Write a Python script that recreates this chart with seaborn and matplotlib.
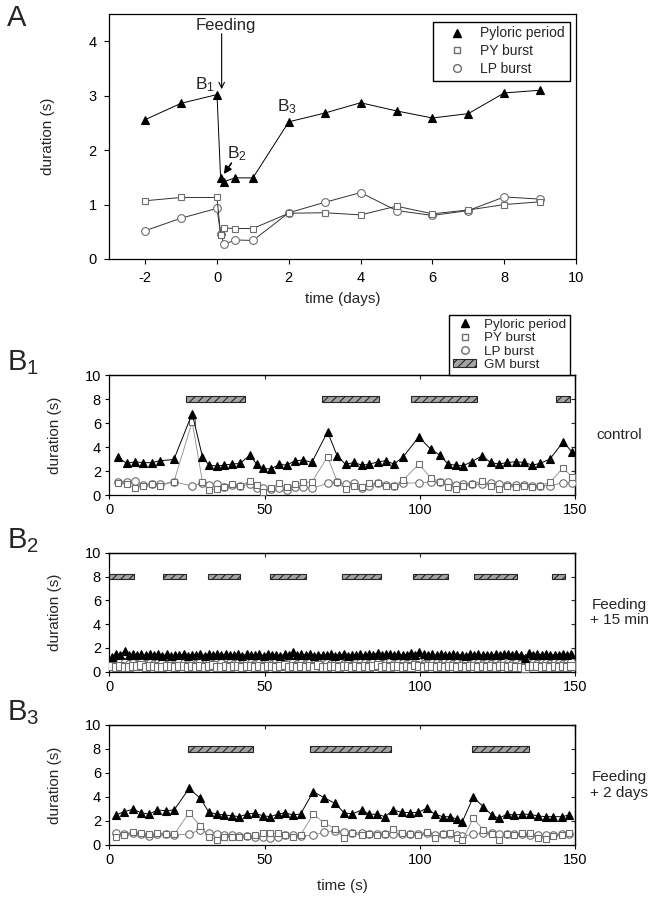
import matplotlib
matplotlib.use("Agg")
import matplotlib.pyplot as plt
import seaborn as sns
from matplotlib.lines import Line2D
from matplotlib.patches import Patch

# ---------------- Panel A data (days) ----------------
a_days = [-2, -1, 0, 0.1, 0.2, 0.5, 1, 2, 3, 4, 5, 6, 7, 8, 9]
a_pyloric = [2.56, 2.86, 3.02, 1.49, 1.42, 1.49, 1.49, 2.52, 2.68, 2.87, 2.72, 2.59, 2.67, 3.05, 3.10]
a_py = [1.07, 1.13, 1.13, 0.45, 0.57, 0.56, 0.56, 0.84, 0.85, 0.81, 0.97, 0.83, 0.90, 1.00, 1.05]
a_lp = [0.52, 0.75, 0.93, 0.46, 0.27, 0.35, 0.34, 0.85, 1.04, 1.22, 0.89, 0.80, 0.89, 1.14, 1.10]

# ---------------- Panel B1 (control) ----------------
b1_t = [2.9, 5.6, 8.3, 11.0, 13.6, 16.3, 20.8, 26.7, 30.0, 32.1, 34.6, 37.0, 39.6, 42.1, 45.3, 47.5,
        49.6, 52.0, 54.7, 57.1, 59.8, 62.5, 65.2, 70.3, 73.4, 76.1, 78.8, 81.3, 83.7, 86.4, 89.1, 91.7,
        94.7, 99.7, 103.5, 106.5, 109.2, 111.7, 114.0, 116.7, 120.1, 122.8, 125.5, 128.2, 130.9, 133.6,
        136.3, 138.7, 141.9, 146.2, 149.0]
b1_pyloric = [3.13, 2.63, 2.77, 2.69, 2.69, 2.85, 2.96, 6.79, 3.19, 2.49, 2.41, 2.49, 2.58, 2.63, 3.32,
              2.55, 2.22, 2.16, 2.55, 2.49, 2.85, 2.91, 2.71, 5.26, 3.27, 2.55, 2.71, 2.49, 2.55, 2.77,
              2.85, 2.58, 3.19, 4.85, 3.82, 3.32, 2.55, 2.49, 2.44, 2.77, 3.27, 2.71, 2.58, 2.71, 2.77,
              2.71, 2.49, 2.63, 2.99, 4.43, 3.60]
b1_py = [0.97, 0.89, 0.61, 0.78, 0.89, 0.78, 1.10, 6.09, 1.10, 0.42, 0.50, 0.69, 0.89, 0.78, 1.16,
         0.83, 0.28, 0.61, 0.97, 0.69, 0.89, 1.05, 1.05, 3.19, 1.10, 0.50, 0.78, 0.69, 0.97, 0.97,
         0.78, 0.78, 1.25, 2.58, 1.44, 1.10, 0.69, 0.50, 0.78, 0.89, 1.16, 0.78, 0.50, 0.78, 0.69,
         0.78, 0.69, 0.78, 1.05, 2.27, 1.50]
b1_lp = [1.10, 1.10, 1.16, 0.83, 0.91, 0.89, 1.10, 0.75, 1.00, 0.83, 0.89, 0.69, 0.83, 0.78, 0.89,
         0.61, 0.55, 0.50, 0.61, 0.42, 0.69, 0.69, 0.55, 0.97, 1.05, 0.89, 0.97, 0.61, 0.78, 0.97,
         0.83, 0.78, 0.97, 1.02, 1.05, 1.05, 1.10, 0.83, 0.89, 0.89, 0.89, 0.97, 0.89, 0.83, 0.83,
         0.83, 0.78, 0.78, 0.78, 1.02, 1.00]
b1_gm_start = [24.7, 68.4, 97.2, 143.8]
b1_gm_end = [43.7, 87.0, 118.3, 148.5]

# ---------------- Panel B2 (feeding + 15 min) ----------------
b2_t = [0.8, 2.2, 3.5, 4.9, 6.3, 7.6, 9.0, 10.3, 11.7, 13.0,
        14.4, 15.8, 17.1, 18.5, 19.8, 21.2, 22.5, 23.9, 25.2, 26.6,
        28.0, 29.3, 30.7, 32.0, 33.4, 34.7, 36.1, 37.5, 38.8, 40.2,
        41.5, 42.9, 44.2, 45.6, 47.0, 48.3, 49.7, 51.0, 52.4, 53.8,
        55.1, 56.5, 57.8, 59.2, 60.6, 61.9, 63.3, 64.6, 66.0, 67.3,
        68.7, 70.1, 71.4, 72.8, 74.1, 75.5, 76.8, 78.2, 79.6, 80.9,
        82.3, 83.6, 85.0, 86.4, 87.7, 89.1, 90.4, 91.8, 93.1, 94.5,
        95.9, 97.2, 98.6, 99.9, 101.3, 102.6, 104.0, 105.4, 106.7, 108.1,
        109.4, 110.8, 112.1, 113.5, 114.9, 116.2, 117.6, 118.9, 120.3, 121.6,
        123.0, 124.4, 125.7, 127.1, 128.4, 129.8, 131.1, 132.5, 133.9, 135.2,
        136.6, 137.9, 139.3, 140.6, 142.0, 143.4, 144.7, 146.1, 147.4, 148.8]
b2_pyloric = [1.25, 1.45, 1.38, 1.75, 1.42, 1.50, 1.40, 1.48, 1.38, 1.45,
              1.40, 1.50, 1.35, 1.45, 1.30, 1.42, 1.38, 1.48, 1.35, 1.44,
              1.40, 1.52, 1.36, 1.45, 1.40, 1.48, 1.38, 1.50, 1.42, 1.38,
              1.45, 1.35, 1.48, 1.40, 1.38, 1.45, 1.36, 1.50, 1.42, 1.40,
              1.35, 1.46, 1.40, 1.62, 1.38, 1.45, 1.40, 1.48, 1.36, 1.44,
              1.40, 1.38, 1.45, 1.36, 1.42, 1.48, 1.35, 1.44, 1.38, 1.46,
              1.40, 1.50, 1.42, 1.60, 1.40, 1.45, 1.52, 1.38, 1.48, 1.40,
              1.44, 1.55, 1.42, 1.62, 1.45, 1.40, 1.48, 1.38, 1.45, 1.42,
              1.38, 1.46, 1.40, 1.44, 1.36, 1.48, 1.42, 1.45, 1.38, 1.44,
              1.40, 1.48, 1.42, 1.50, 1.45, 1.38, 1.52, 1.42, 1.15, 1.58,
              1.40, 1.48, 1.42, 1.45, 1.38, 1.44, 1.40, 1.46, 1.42, 1.45]
b2_py = [0.45, 0.38, 0.52, 0.42, 0.36, 0.48, 0.44, 0.55, 0.40, 0.46,
         0.50, 0.42, 0.38, 0.47, 0.44, 0.40, 0.52, 0.45, 0.36, 0.48,
         0.42, 0.50, 0.40, 0.45, 0.56, 0.43, 0.38, 0.47, 0.42, 0.50,
         0.44, 0.38, 0.48, 0.52, 0.40, 0.45, 0.36, 0.50, 0.44, 0.41,
         0.47, 0.53, 0.40, 0.45, 0.38, 0.50, 0.43, 0.46, 0.40, 0.55,
         0.42, 0.38, 0.48, 0.45, 0.40, 0.52, 0.44, 0.37, 0.47, 0.43,
         0.50, 0.40, 0.46, 0.54, 0.41, 0.45, 0.38, 0.49, 0.44, 0.42,
         0.48, 0.40, 0.53, 0.44, 0.38, 0.46, 0.50, 0.42, 0.45, 0.39,
         0.47, 0.52, 0.41, 0.45, 0.38, 0.50, 0.44, 0.40, 0.48, 0.43,
         0.45, 0.39, 0.51, 0.44, 0.40, 0.47, 0.42, 0.36, 0.30, 0.48,
         0.44, 0.50, 0.41, 0.46, 0.38, 0.52, 0.43, 0.47, 0.40, 0.45]
b2_lp = [0.70, 0.62, 0.78, 0.85, 0.66, 0.74, 0.60, 0.80, 0.68, 0.72,
         0.64, 0.76, 0.70, 0.58, 0.74, 0.66, 0.82, 0.70, 0.62, 0.75,
         0.68, 0.80, 0.64, 0.72, 0.66, 0.78, 0.70, 0.60, 0.76, 0.68,
         0.74, 0.65, 0.80, 0.70, 0.62, 0.77, 0.68, 0.72, 0.64, 0.79,
         0.70, 0.66, 0.75, 0.82, 0.64, 0.72, 0.68, 0.78, 0.62, 0.74,
         0.70, 0.76, 0.64, 0.70, 0.80, 0.66, 0.72, 0.60, 0.75, 0.69,
         0.73, 0.65, 0.78, 0.84, 0.68, 0.74, 0.80, 0.66, 0.72, 0.70,
         0.64, 0.76, 0.70, 0.82, 0.68, 0.62, 0.75, 0.70, 0.66, 0.78,
         0.72, 0.64, 0.74, 0.68, 0.80, 0.66, 0.72, 0.76, 0.62, 0.70,
         0.68, 0.74, 0.66, 0.78, 0.70, 0.64, 0.72, 0.68, 0.60, 0.82,
         0.70, 0.66, 0.76, 0.72, 0.64, 0.78, 0.70, 0.68, 0.74, 0.80]
b2_gm_start = [0.0, 17.2, 31.7, 51.8, 75.1, 97.8, 117.4, 142.7]
b2_gm_end = [8.0, 24.7, 42.1, 63.3, 87.4, 109.1, 131.2, 146.8]

# ---------------- Panel B3 (feeding + 2 days) ----------------
b3_t = [2.2, 4.8, 7.6, 10.3, 12.8, 15.5, 18.2, 20.9, 25.7, 29.3, 32.1, 34.6, 37.1, 39.6, 41.9,
        44.4, 46.9, 49.4, 51.8, 54.2, 56.6, 59.1, 61.6, 65.7, 69.3, 72.7, 75.6, 78.3, 81.3, 83.7,
        86.3, 88.8, 91.5, 94.2, 96.9, 99.5, 102.2, 104.9, 107.4, 109.7, 112.1, 113.7, 117.2, 120.5,
        123.2, 125.5, 128.0, 130.4, 133.0, 135.5, 138.0, 140.6, 143.0, 145.7, 148.2]
b3_pyloric = [2.50, 2.78, 2.97, 2.69, 2.56, 2.92, 2.86, 2.92, 4.72, 3.89, 2.72, 2.58, 2.50, 2.44, 2.36,
              2.58, 2.64, 2.44, 2.36, 2.56, 2.69, 2.50, 2.58, 4.44, 3.93, 3.47, 2.69, 2.58, 2.92, 2.56,
              2.56, 2.36, 2.92, 2.72, 2.69, 2.72, 3.06, 2.56, 2.36, 2.36, 2.14, 1.94, 3.97, 3.19, 2.50,
              2.22, 2.56, 2.50, 2.56, 2.56, 2.42, 2.36, 2.36, 2.36, 2.50]
b3_py = [0.69, 0.83, 1.10, 1.03, 0.89, 0.97, 0.92, 0.89, 2.69, 1.58, 0.69, 0.42, 0.69, 0.64, 0.69,
         0.75, 0.83, 0.97, 0.97, 0.97, 0.83, 0.69, 0.83, 2.58, 1.82, 1.37, 0.62, 0.98, 0.81, 0.90,
         0.81, 0.90, 1.37, 1.04, 0.90, 0.81, 1.09, 0.62, 0.90, 0.98, 0.62, 0.39, 2.21, 1.26, 0.90,
         0.39, 0.90, 0.81, 0.98, 0.98, 0.62, 0.53, 0.76, 0.81, 0.98]
b3_lp = [0.97, 0.92, 1.03, 0.92, 0.75, 0.92, 0.92, 0.83, 0.92, 1.25, 0.97, 0.92, 0.83, 0.83, 0.78,
         0.78, 0.69, 0.64, 0.56, 0.64, 0.83, 0.83, 0.75, 0.83, 1.05, 1.18, 1.09, 1.04, 0.98, 0.95,
         0.92, 0.90, 0.95, 0.92, 0.88, 0.90, 0.98, 0.85, 0.92, 0.88, 0.80, 0.75, 0.88, 0.98, 1.00,
         0.92, 0.95, 0.90, 0.88, 0.85, 0.85, 0.82, 0.85, 0.90, 0.95]
b3_gm_start = [25.4, 64.6, 116.7]
b3_gm_end = [46.4, 90.6, 135.3]

# ---------------- labels ----------------
legend_labels = ["Pyloric period", "PY burst", "LP burst", "GM burst"]
b_conditions = ["control", "Feeding\n+ 15 min", "Feeding\n+ 2 days"]
b_letters = ["B$_1$", "B$_2$", "B$_3$"]

# ---------------- style ----------------
sns.set_theme(style="ticks")
plt.rcParams["font.family"] = ["Liberation Sans", "DejaVu Sans"]
plt.rcParams["mathtext.fontset"] = "custom"
plt.rcParams["mathtext.rm"] = "Liberation Sans"
plt.rcParams["mathtext.it"] = "Liberation Sans:italic"
plt.rcParams["axes.unicode_minus"] = False
plt.rcParams["hatch.linewidth"] = 0.8
plt.rcParams["axes.linewidth"] = 0.9
plt.rcParams["axes.edgecolor"] = "black"

GRAY_EDGE = "#6e6e6e"
GRAY_LINE = "#8a8a8a"

fig = plt.figure(figsize=(6.52, 9.0), dpi=100)
W, H = 652.0, 900.0


def add_axes(left, top, right, bottom):
    return fig.add_axes([left / W, 1 - bottom / H, (right - left) / W, (bottom - top) / H])


def series(ax, x, y, marker, ms, mfc, mec, lc, lw, z):
    sns.lineplot(x=x, y=y, ax=ax, estimator=None, sort=False, color=lc, linewidth=lw,
                 marker=marker, markersize=ms, markerfacecolor=mfc, markeredgecolor=mec,
                 markeredgewidth=0.8, zorder=z, legend=False)


# ---------------- Panel A ----------------
axA = add_axes(109.3, 14, 576, 259)
series(axA, a_days, a_lp, "o", 5.6, "white", GRAY_EDGE, "#333333", 0.7, 3)
series(axA, a_days, a_py, "s", 5.0, "white", GRAY_EDGE, "#333333", 0.7, 4)
series(axA, a_days, a_pyloric, "^", 6.2, "black", "black", "black", 0.7, 5)
axA.set_xlim(-3, 10)
axA.set_ylim(0, 4.5)
axA.set_xticks([-2, 0, 2, 4, 6, 8, 10])
axA.set_yticks([0, 1, 2, 3, 4])
axA.tick_params(direction="out", length=3.5, width=0.8, labelsize=10.5, pad=5.5, colors="black")
axA.set_xlabel("time (days)", fontsize=11)
axA.set_ylabel("duration (s)", fontsize=11)
axA.xaxis.set_label_coords(0.5, -0.135)
axA.yaxis.set_label_coords(-0.116, 0.5)
for s in axA.spines.values():
    s.set_visible(True)

axA.text(0.24, 4.28, "Feeding", fontsize=12, ha="center", va="center")
axA.annotate("", xy=(0.13, 3.12), xytext=(0.13, 4.14),
             arrowprops=dict(arrowstyle="->", lw=0.8, color="black", mutation_scale=10,
                             shrinkA=0, shrinkB=0))
axA.text(-0.33, 3.2, "B$_1$", fontsize=12.5, ha="center", va="center")
axA.text(0.55, 1.93, "B$_2$", fontsize=12.5, ha="center", va="center")
axA.annotate("", xy=(0.19, 1.56), xytext=(0.40, 1.76),
             arrowprops=dict(arrowstyle="-|>", lw=1.2, color="black", mutation_scale=11,
                             shrinkA=0, shrinkB=0))
axA.text(1.95, 2.8, "B$_3$", fontsize=12.5, ha="center", va="center")

hA = [Line2D([], [], linestyle="none", marker="^", markersize=6.2, markerfacecolor="black",
             markeredgecolor="black"),
      Line2D([], [], linestyle="none", marker="s", markersize=5.0, markerfacecolor="white",
             markeredgecolor=GRAY_EDGE),
      Line2D([], [], linestyle="none", marker="o", markersize=5.6, markerfacecolor="white",
             markeredgecolor=GRAY_EDGE)]
legA = axA.legend(hA, legend_labels[:3], loc="upper right", bbox_to_anchor=(0.987, 0.969),
                  borderaxespad=0, fontsize=10, frameon=True, fancybox=False, framealpha=1,
                  edgecolor="black", handlelength=2.8, handletextpad=0.3, borderpad=0.35,
                  labelspacing=0.28)
legA.get_frame().set_linewidth(1.0)

# ---------------- Panels B ----------------
b_boxes = [(375, 495), (552.7, 671.7), (725, 845)]
b_t = [b1_t, b2_t, b3_t]
b_pyl = [b1_pyloric, b2_pyloric, b3_pyloric]
b_pys = [b1_py, b2_py, b3_py]
b_lps = [b1_lp, b2_lp, b3_lp]
b_gs = [b1_gm_start, b2_gm_start, b3_gm_start]
b_ge = [b1_gm_end, b2_gm_end, b3_gm_end]

GM_FACE = "#a3a3a3"
GM_EDGE = "#262626"

axes_b = []
for i in range(3):
    top, bot = b_boxes[i]
    ax = add_axes(109.3, top, 575, bot)
    axes_b.append(ax)
    dense = i == 1
    ms_t = 6.0
    ms_s = 5.4 if dense else 4.8
    ms_o = 5.8 if dense else 5.4
    series(ax, b_t[i], b_lps[i], "o", ms_o, "white", GRAY_EDGE, GRAY_LINE, 0.6, 3)
    series(ax, b_t[i], b_pys[i], "s", ms_s, "white", GRAY_EDGE, GRAY_LINE, 0.6, 4)
    series(ax, b_t[i], b_pyl[i], "^", ms_t, "black", "black", "black", 0.7, 5)
    widths = [e - s for s, e in zip(b_gs[i], b_ge[i])]
    ax.barh([8] * len(widths), widths, left=b_gs[i], height=0.5, color=GM_FACE,
            edgecolor=GM_EDGE, hatch="////", linewidth=0.8, zorder=2)
    ax.set_xlim(0, 150)
    ax.set_ylim(0, 10)
    ax.set_xticks([0, 50, 100, 150])
    ax.set_yticks([0, 2, 4, 6, 8, 10])
    ax.tick_params(direction="out", length=3, width=0.8, labelsize=10.5, pad=3, colors="black")
    sx = ax.secondary_xaxis("top")
    sx.set_xticks([0, 50, 100, 150])
    sx.tick_params(direction="in", length=3, width=0.8, labeltop=False)
    sy = ax.secondary_yaxis("right")
    sy.set_yticks([0, 2, 4, 6, 8, 10])
    sy.tick_params(direction="in", length=3, width=0.8, labelright=False)
    ax.set_ylabel("duration (s)", fontsize=11)
    ax.yaxis.set_label_coords(-0.102, 0.5)
    ax.set_xlabel("")
    fig.text(619 / W, 1 - ((top + bot) / 2) / H, b_conditions[i], fontsize=11,
             ha="center", va="center", linespacing=1.1)
    fig.text(7 / W, 1 - (top - 12) / H, b_letters[i], fontsize=21, ha="left", va="center")

axes_b[2].set_xlabel("time (s)", fontsize=11)
axes_b[2].xaxis.set_label_coords(0.5, -0.285)

hB = [Line2D([], [], linestyle="none", marker="^", markersize=6.0, markerfacecolor="black",
             markeredgecolor="black"),
      Line2D([], [], linestyle="none", marker="s", markersize=4.8, markerfacecolor="white",
             markeredgecolor=GRAY_EDGE),
      Line2D([], [], linestyle="none", marker="o", markersize=5.4, markerfacecolor="white",
             markeredgecolor=GRAY_EDGE),
      Patch(facecolor=GM_FACE, edgecolor=GM_EDGE, hatch="////", linewidth=0.8)]
legB = axes_b[0].legend(hB, legend_labels, loc="lower right", bbox_to_anchor=(0.989, 1.0),
                        borderaxespad=0, fontsize=9.7, frameon=True, fancybox=False,
                        framealpha=1, edgecolor="black", handlelength=1.7, handleheight=0.6,
                        handletextpad=0.55, borderpad=0.3, labelspacing=0.1)
legB.get_frame().set_linewidth(1.0)

fig.text(7 / W, 1 - 18 / H, "A", fontsize=21, ha="left", va="center")

fig.savefig("out.png", dpi=100)
